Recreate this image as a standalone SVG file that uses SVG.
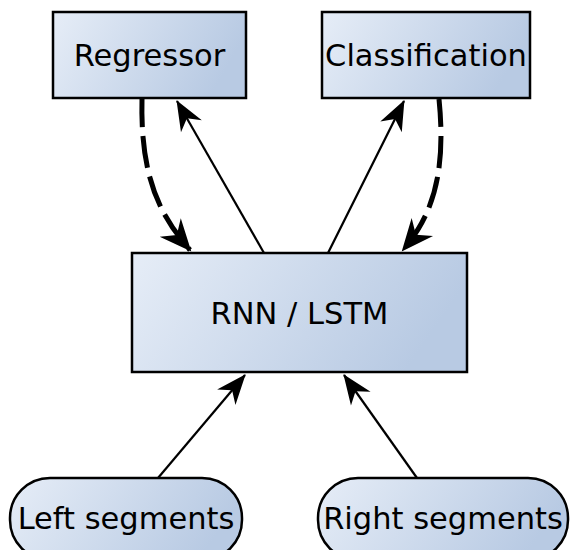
<svg xmlns="http://www.w3.org/2000/svg" width="570" height="550" viewBox="0 0 570 550">
<defs>
<linearGradient id="g" x1="0" y1="0" x2="1" y2="0.25">
<stop offset="0" stop-color="#e6edf7"/>
<stop offset="1" stop-color="#b8cae3"/>
</linearGradient>
<marker id="a" markerUnits="userSpaceOnUse" viewBox="-34 -16 36 32" refX="0" refY="0" markerWidth="36" markerHeight="32" orient="auto" overflow="visible">
<path d="M1,0 L-29,-12 L-20,0 L-29,12 Z" fill="#000"/>
</marker>
<marker id="b" markerUnits="userSpaceOnUse" viewBox="-36 -18 38 36" refX="0" refY="0" markerWidth="38" markerHeight="36" orient="auto" overflow="visible">
<path d="M2,0 L-30,-14 L-20,0 L-30,14 Z" fill="#000"/>
</marker>
</defs>
<style>
.n{fill:url(#g);stroke:#000;stroke-width:2.5}
.t{font-family:"DejaVu Sans",sans-serif;font-size:30.5px;fill:#000;text-anchor:middle}
.s{fill:none;stroke:#000;stroke-width:2.2;marker-end:url(#a)}
.d{fill:none;stroke:#000;stroke-width:5;stroke-dasharray:32,9;stroke-dashoffset:4;marker-end:url(#b)}
</style>
<g id="connectors">
<path class="s" d="M158,478 L245,375"/>
<path class="s" d="M417,478 L344,375"/>
<path class="s" d="M264,253 L177,101"/>
<path class="s" d="M328,253 L404,101"/>
<path class="d" d="M142,99 C140,180 162,218 190,250"/>
<path class="d" d="M439,99 C447,178 430,218 403,250"/>
</g>
<g id="regressor">
<rect class="n" x="53" y="12" width="193" height="86"/>
<text class="t" x="149.5" y="66">Regressor</text>
</g>
<g id="classification">
<rect class="n" x="322" y="12" width="208" height="86"/>
<text class="t" x="426" y="66">Classification</text>
</g>
<g id="rnn">
<rect class="n" x="132" y="253" width="335" height="119"/>
<text class="t" x="299.5" y="324">RNN / LSTM</text>
</g>
<g id="left">
<rect class="n" x="10" y="478" width="232" height="82" rx="40" ry="40"/>
<text class="t" x="126" y="529">Left segments</text>
</g>
<g id="right">
<rect class="n" x="318" y="478" width="250" height="82" rx="40" ry="40"/>
<text class="t" x="443" y="529">Right segments</text>
</g>
</svg>
